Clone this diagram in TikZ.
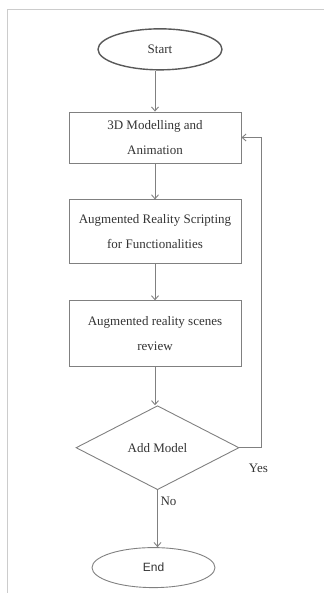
\documentclass[tikz,border=0pt]{standalone}
\usepackage{fontspec}
\setmainfont{Liberation Serif}
\newfontfamily\endfont{Liberation Sans}
\usetikzlibrary{shapes.geometric, arrows.meta, positioning}

\definecolor{linegray}{HTML}{808080}
\definecolor{framegray}{HTML}{CCCCCC}
\definecolor{textgray}{HTML}{333333}

\begin{document}
\begin{tikzpicture}[
  x=1pt, y=-1pt,
  every node/.style={text=textgray, font=\fontsize{13}{25}\selectfont},
  stepbox/.style={rectangle, draw=linegray, line width=0.9pt,
                  minimum width=172pt, align=center, inner sep=2pt},
  terminal/.style={ellipse, draw=linegray, line width=0.9pt, inner sep=0pt},
  decide/.style={diamond, draw=linegray, line width=0.9pt, aspect=1.94,
                 minimum width=163pt, minimum height=84pt, inner sep=0pt},
  arrow/.style={-{Straight Barb[length=4pt, width=7pt]}, line width=0.9pt, draw=linegray}
]
\useasboundingbox (0,0) rectangle (324,593);
% page frame
\draw[framegray, line width=1pt] (7.5,593) -- (7.5,10) -- (324,10);

\node[stepbox, minimum height=51pt] (model) at (155,137.5) {3D Modelling and\\Animation};
\node[terminal, draw=black!65, line width=1.4pt, minimum width=124pt, minimum height=41pt,
      above=41pt of model, xshift=5pt] (start) {Start};
\node[stepbox, minimum height=64pt, below=36pt of model] (script) {Augmented Reality Scripting\\for Functionalities};
\node[stepbox, minimum height=66pt, below=36pt of script] (review) {Augmented reality scenes\\review};
\node[decide, below=38pt of review, xshift=2.5pt] (add) {Add Model};
\node[terminal, minimum width=123pt, minimum height=40pt, below=57pt of add, xshift=-4pt,
      font=\endfont\fontsize{12}{14}\selectfont] (end) {End};

\node (yes) at ([xshift=19pt, yshift=-21pt]add.east) {Yes};
\node (no) at ([xshift=11pt, yshift=-11pt]add.south) {No};

\draw[arrow] (model.north |- start.south) -- (model.north);
\draw[arrow] (model) -- (script);
\draw[arrow] (script) -- (review);
\draw[arrow] (review.south) -- (review.south |- add.north);
\draw[arrow] (add.east) -- ++(22,0) |- (model.east);
\draw[arrow] (add.south) -- (add.south |- end.north);

\end{tikzpicture}
\end{document}
